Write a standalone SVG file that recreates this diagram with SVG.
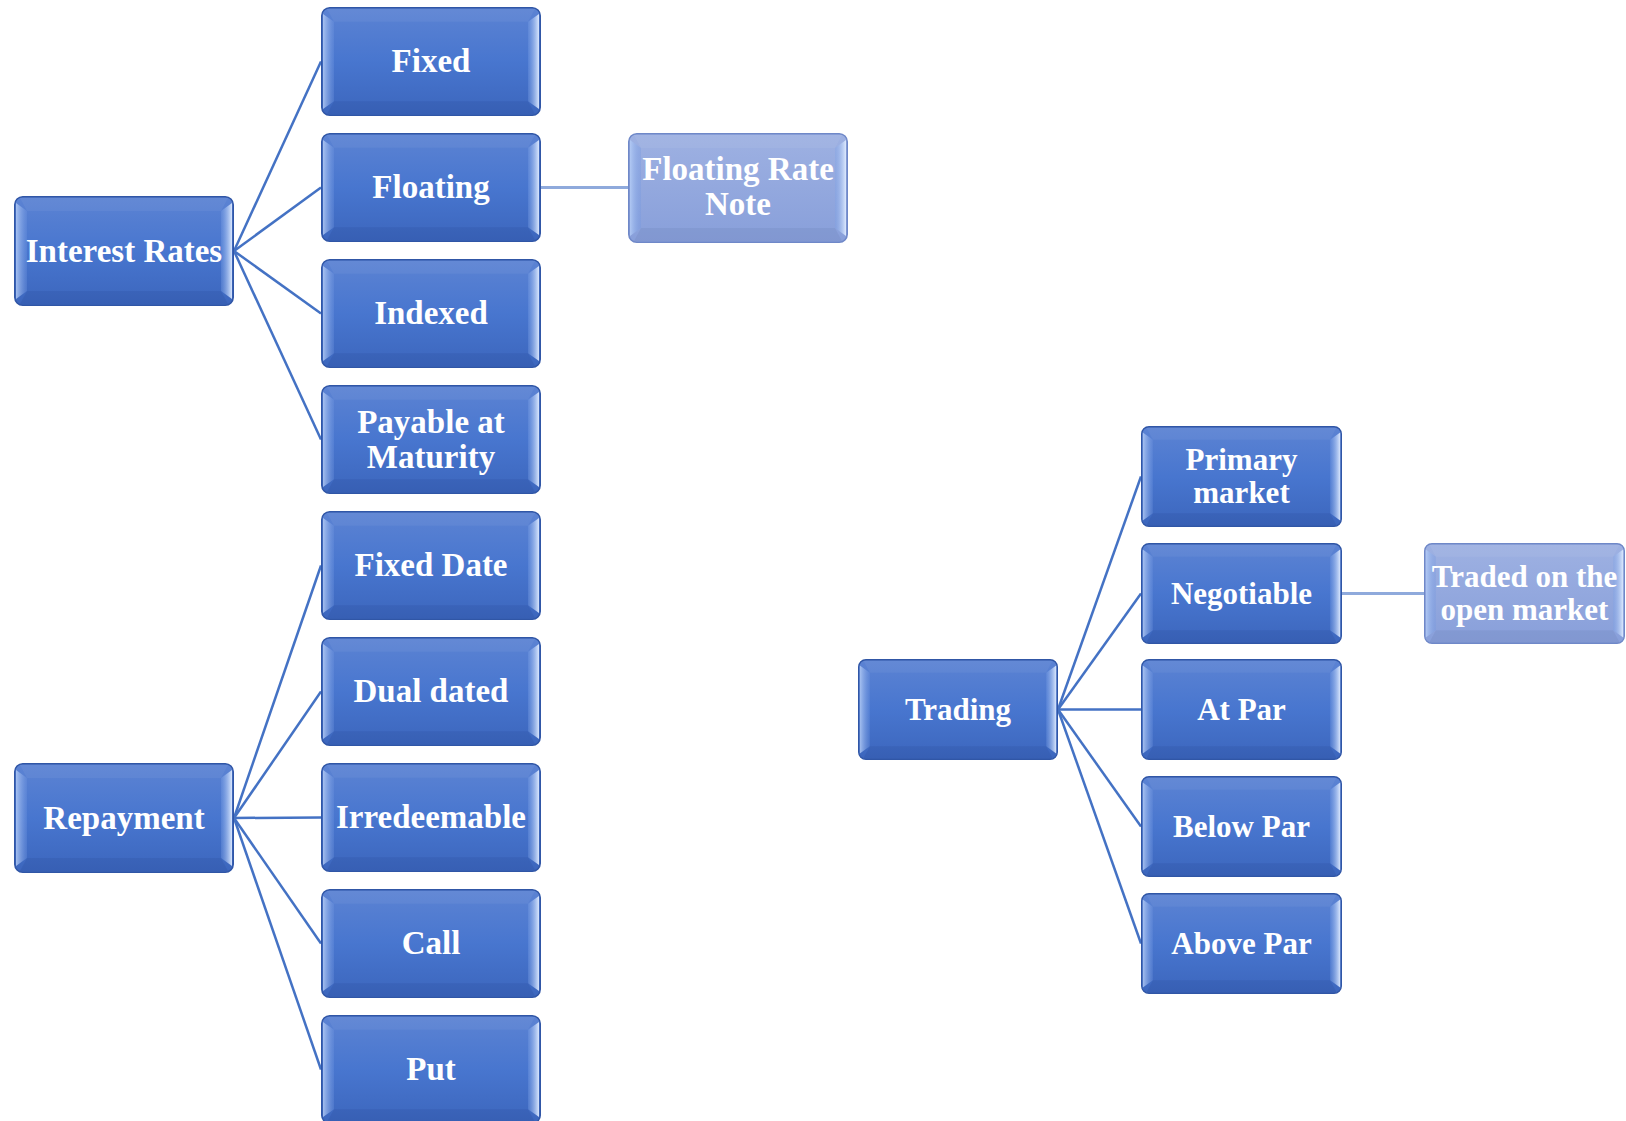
<svg xmlns="http://www.w3.org/2000/svg" xmlns:xlink="http://www.w3.org/1999/xlink" width="1626" height="1121" viewBox="0 0 1626 1121">
<style>
.t{font-family:"Liberation Serif","Times New Roman",serif;font-weight:bold;fill:#ffffff;text-anchor:middle}
.l{font-size:33px}
.r{font-size:31px}
.c{stroke:#4472c4;stroke-width:2.5;fill:none}
.cl{stroke:#8faadc;stroke-width:3;fill:none}
</style>
<defs>
<linearGradient id="gMain" x1="0" y1="0" x2="0" y2="1">
<stop offset="0" stop-color="#5c83d3"/>
<stop offset="0.5" stop-color="#4876cf"/>
<stop offset="1" stop-color="#3c66bd"/>
</linearGradient>
<linearGradient id="gLight" x1="0" y1="0" x2="0" y2="1">
<stop offset="0" stop-color="#9eb1e2"/>
<stop offset="1" stop-color="#889fda"/>
</linearGradient>
<linearGradient id="gLeft" x1="0" y1="0" x2="1" y2="0">
<stop offset="0" stop-color="#b5cdf6" stop-opacity="0.85"/>
<stop offset="1" stop-color="#7196e0" stop-opacity="0.3"/>
</linearGradient>
<linearGradient id="gRight" x1="0" y1="0" x2="1" y2="0">
<stop offset="0" stop-color="#7aa0e6" stop-opacity="0.3"/>
<stop offset="1" stop-color="#e0ecff" stop-opacity="0.95"/>
</linearGradient>
<symbol id="box" viewBox="0 0 220 110" preserveAspectRatio="none">
<rect x="0.75" y="0.75" width="218.5" height="108.5" rx="8" fill="url(#gMain)" stroke="#3056a6" stroke-width="1.5"/>
<polygon points="6,2 214,2 207,15 13,15" fill="#ffffff" fill-opacity="0.05"/>
<polygon points="13,95 207,95 214,108 6,108" fill="#001040" fill-opacity="0.07"/>
<polygon points="2,7 13,15 13,95 2,103" fill="url(#gLeft)"/>
<polygon points="218,7 207,15 207,95 218,103" fill="url(#gRight)"/>
</symbol>
<symbol id="boxL" viewBox="0 0 220 110" preserveAspectRatio="none">
<rect x="0.75" y="0.75" width="218.5" height="108.5" rx="8" fill="url(#gLight)" stroke="#6f88c8" stroke-width="1.5"/>
<polygon points="6,2 214,2 207,15 13,15" fill="#ffffff" fill-opacity="0.06"/>
<polygon points="13,95 207,95 214,108 6,108" fill="#001040" fill-opacity="0.05"/>
<polygon points="2,7 13,15 13,95 2,103" fill="url(#gLeft)"/>
<polygon points="218,7 207,15 207,95 218,103" fill="url(#gRight)"/>
</symbol>
</defs>
<g id="connectors">
<line class="c" x1="234" y1="251" x2="321" y2="61.5"/>
<line class="c" x1="234" y1="251" x2="321" y2="187.5"/>
<line class="c" x1="234" y1="251" x2="321" y2="313.5"/>
<line class="c" x1="234" y1="251" x2="321" y2="439.5"/>
<line class="c" x1="234" y1="818" x2="321" y2="565.5"/>
<line class="c" x1="234" y1="818" x2="321" y2="691.5"/>
<line class="c" x1="234" y1="818" x2="321" y2="817.5"/>
<line class="c" x1="234" y1="818" x2="321" y2="943.5"/>
<line class="c" x1="234" y1="818" x2="321" y2="1069.5"/>
<line class="cl" x1="541" y1="187.5" x2="628" y2="187.5"/>
<line class="c" x1="1058" y1="709.5" x2="1141" y2="476.5"/>
<line class="c" x1="1058" y1="709.5" x2="1141" y2="593.5"/>
<line class="c" x1="1058" y1="709.5" x2="1141" y2="709.5"/>
<line class="c" x1="1058" y1="709.5" x2="1141" y2="826.5"/>
<line class="c" x1="1058" y1="709.5" x2="1141" y2="943.5"/>
<line class="cl" x1="1342" y1="593.5" x2="1424" y2="593.5"/>
</g>
<g id="interest-rates"><use xlink:href="#box" x="14" y="196" width="220" height="110"/><text class="t l" x="124" y="262">Interest Rates</text></g>
<g id="fixed"><use xlink:href="#box" x="321" y="7" width="220" height="109"/><text class="t l" x="431" y="72">Fixed</text></g>
<g id="floating"><use xlink:href="#box" x="321" y="133" width="220" height="109"/><text class="t l" x="431" y="198">Floating</text></g>
<g id="indexed"><use xlink:href="#box" x="321" y="259" width="220" height="109"/><text class="t l" x="431" y="324">Indexed</text></g>
<g id="payable"><use xlink:href="#box" x="321" y="385" width="220" height="109"/><text class="t l" x="431" y="433">Payable at</text><text class="t l" x="431" y="468">Maturity</text></g>
<g id="floating-rate-note"><use xlink:href="#boxL" x="628" y="133" width="220" height="110"/><text class="t l" x="738" y="180">Floating Rate</text><text class="t l" x="738" y="215">Note</text></g>
<g id="repayment"><use xlink:href="#box" x="14" y="763" width="220" height="110"/><text class="t l" x="124" y="829">Repayment</text></g>
<g id="fixed-date"><use xlink:href="#box" x="321" y="511" width="220" height="109"/><text class="t l" x="431" y="576">Fixed Date</text></g>
<g id="dual-dated"><use xlink:href="#box" x="321" y="637" width="220" height="109"/><text class="t l" x="431" y="702">Dual dated</text></g>
<g id="irredeemable"><use xlink:href="#box" x="321" y="763" width="220" height="109"/><text class="t l" x="431" y="828">Irredeemable</text></g>
<g id="call"><use xlink:href="#box" x="321" y="889" width="220" height="109"/><text class="t l" x="431" y="954">Call</text></g>
<g id="put"><use xlink:href="#box" x="321" y="1015" width="220" height="109"/><text class="t l" x="431" y="1080">Put</text></g>
<g id="trading"><use xlink:href="#box" x="858" y="659" width="200" height="101"/><text class="t r" x="958" y="720">Trading</text></g>
<g id="primary-market"><use xlink:href="#box" x="1141" y="426" width="201" height="101"/><text class="t r" x="1241.5" y="470">Primary</text><text class="t r" x="1241.5" y="503">market</text></g>
<g id="negotiable"><use xlink:href="#box" x="1141" y="543" width="201" height="101"/><text class="t r" x="1241.5" y="604">Negotiable</text></g>
<g id="at-par"><use xlink:href="#box" x="1141" y="659" width="201" height="101"/><text class="t r" x="1241.5" y="720">At Par</text></g>
<g id="below-par"><use xlink:href="#box" x="1141" y="776" width="201" height="101"/><text class="t r" x="1241.5" y="837">Below Par</text></g>
<g id="above-par"><use xlink:href="#box" x="1141" y="893" width="201" height="101"/><text class="t r" x="1241.5" y="954">Above Par</text></g>
<g id="traded-open-market"><use xlink:href="#boxL" x="1424" y="543" width="201" height="101"/><text class="t r" x="1524.5" y="587">Traded on the</text><text class="t r" x="1524.5" y="620">open market</text></g>
</svg>
